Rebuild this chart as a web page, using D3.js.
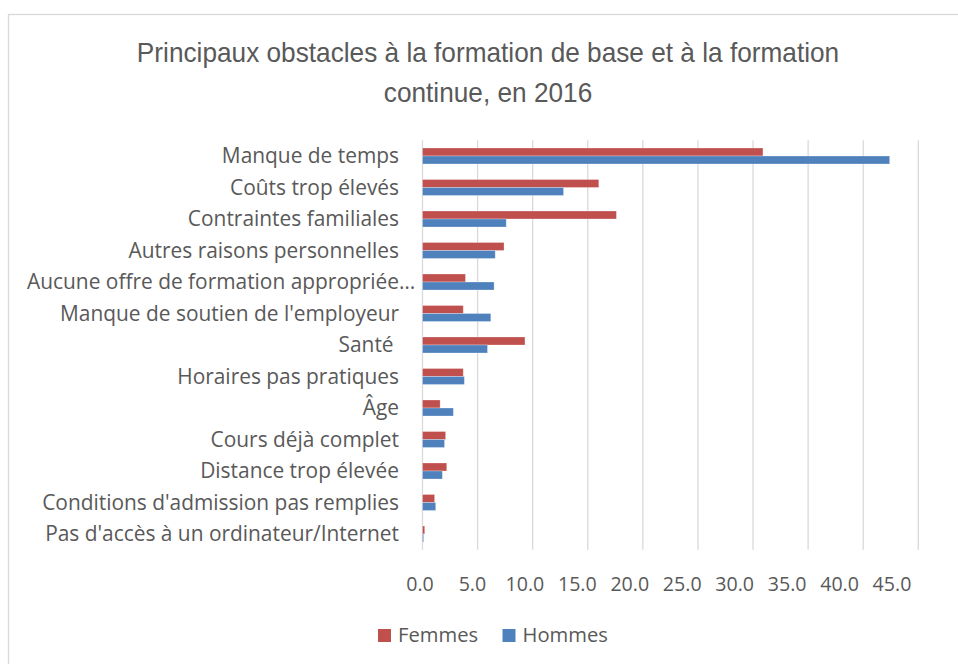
<!DOCTYPE html>
<html lang="fr">
<head>
<meta charset="utf-8">
<script src="https://cdn.jsdelivr.net/npm/d3@7"></script>
<style>
  html, body { margin: 0; padding: 0; background: #fff; }
  svg { display: block; }
</style>
</head>
<body>
<svg id="chart" width="958" height="664"></svg>
<script>
// Obstacles, listed from top to bottom
const categories = [
  "Manque de temps",
  "Coûts trop élevés",
  "Contraintes familiales",
  "Autres raisons personnelles",
  "Aucune offre de formation appropriée…",
  "Manque de soutien de l'employeur",
  "Santé ",
  "Horaires pas pratiques",
  "Âge",
  "Cours déjà complet",
  "Distance trop élevée",
  "Conditions d'admission pas remplies",
  "Pas d'accès à un ordinateur/Internet"
];
const seriesNames = ["Femmes", "Hommes"];
const femmes = [30.9, 16.0, 17.6, 7.4, 3.9, 3.7, 9.3, 3.7, 1.6, 2.1, 2.2, 1.1, 0.2];
const hommes = [42.4, 12.8, 7.6, 6.6, 6.5, 6.2, 5.9, 3.8, 2.8, 2.0, 1.8, 1.2, 0.1];
const tickValues = [0, 5, 10, 15, 20, 25, 30, 35, 40, 45];
const titleLines = ["Principaux obstacles à la formation de base et à la formation", "continue, en 2016"];

const colors = { Femmes: "#c0504d", Hommes: "#4f81bd" };
const textColor = "#595959";
const uiFont = "'Open Sans', sans-serif";

const rows = categories.map((c, i) => ({ cat: c, Femmes: femmes[i], Hommes: hommes[i] }));

const svg = d3.select("#chart");

// chart frame
svg.append("rect")
  .attr("x", 8.5).attr("y", 14.5)
  .attr("width", 1000).attr("height", 700)
  .attr("fill", "#fff")
  .attr("stroke", "#d9d9d9").attr("stroke-width", 1.3);

// title, slightly condensed
svg.append("g").selectAll("text")
  .data(titleLines)
  .join("text")
  .attr("transform", (d, i) => `translate(488,${62 + i * 40}) scale(0.92,1)`)
  .attr("text-anchor", "middle")
  .attr("font-family", "'Liberation Sans', Arial, sans-serif")
  .attr("font-size", 28.5)
  .attr("fill", textColor)
  .text(d => d);

// scales
const plotTop = 140.25, plotBottom = 549.75;
const x = d3.scaleLinear().domain([0, 45]).range([422.5, 918.3]);
const tickX = d3.scaleLinear().domain([0, 45]).range([420, 892]);
const pad = 1 - 16 / 31.5;
const y = d3.scaleBand().domain(categories).range([plotTop, plotBottom])
  .paddingInner(pad).paddingOuter(pad / 2);
const ySub = d3.scaleBand().domain(seriesNames).range([0, y.bandwidth()]);

// vertical gridlines
svg.append("g").selectAll("line")
  .data(tickValues)
  .join("line")
  .attr("x1", d => x(d)).attr("x2", d => x(d))
  .attr("y1", plotTop).attr("y2", plotBottom)
  .attr("stroke", "#d9d9d9").attr("stroke-width", 1.3);

// bars
const groups = svg.append("g").selectAll("g")
  .data(rows)
  .join("g")
  .attr("transform", d => `translate(0,${y(d.cat)})`);

groups.selectAll("rect")
  .data(d => seriesNames.map(s => ({ s, v: d[s] })))
  .join("rect")
  .attr("x", x(0))
  .attr("y", d => ySub(d.s))
  .attr("width", d => x(d.v) - x(0))
  .attr("height", ySub.bandwidth())
  .attr("fill", d => colors[d.s])
  .attr("stroke", "rgba(255,255,255,0.35)")
  .attr("stroke-width", 0.8);

// category labels
const labelRight = 399, labelLeftLimit = 27;
const labels = svg.append("g").selectAll("text")
  .data(categories)
  .join("text")
  .attr("x", labelRight)
  .attr("y", d => y(d) + y.bandwidth() / 2 + 7.4)
  .attr("text-anchor", "end")
  .attr("font-family", uiFont)
  .attr("font-size", 20.9)
  .attr("fill", textColor)
  .style("white-space", "pre")
  .text(d => d);
labels.each(function () {
  const w = this.getComputedTextLength();
  if (labelRight - w < labelLeftLimit) {
    d3.select(this).attr("text-anchor", "start").attr("x", labelLeftLimit);
  }
});

// value axis labels
svg.append("g").selectAll("text")
  .data(tickValues)
  .join("text")
  .attr("x", d => tickX(d))
  .attr("y", 591)
  .attr("text-anchor", "middle")
  .attr("font-family", uiFont)
  .attr("font-size", 19.6)
  .attr("fill", textColor)
  .text(d => d3.format(".1f")(d));

// legend
const legendPos = { Femmes: 378, Hommes: 502.5 };
const legend = svg.append("g").selectAll("g")
  .data(seriesNames)
  .join("g")
  .attr("transform", d => `translate(${legendPos[d]},629)`);
legend.append("rect")
  .attr("width", 13).attr("height", 13)
  .attr("fill", d => colors[d]);
legend.append("text")
  .attr("x", 20).attr("y", 13)
  .attr("font-family", uiFont)
  .attr("font-size", 20.2)
  .attr("fill", textColor)
  .text(d => d);
</script>
</body>
</html>
